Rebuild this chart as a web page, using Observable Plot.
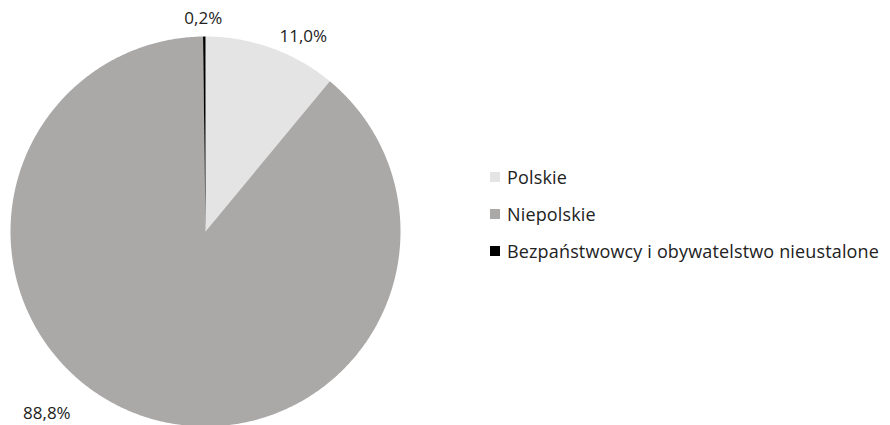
<!DOCTYPE html>
<html>
<head>
<meta charset="utf-8">
<script src="https://cdn.jsdelivr.net/npm/d3@7"></script>
<script src="https://cdn.jsdelivr.net/npm/@observablehq/plot@0.6"></script>
<style>
  body { margin: 0; background: #fff; font-family: "Open Sans", sans-serif; }
  #wrap { position: relative; width: 890px; height: 425px; overflow: hidden; }
  #legend { position: absolute; left: 490px; top: 158px; font-size: 18px; letter-spacing: 0.15px; color: #222; }
  .item { display: flex; align-items: center; height: 37px; white-space: nowrap; }
  .sw { width: 10px; height: 10px; margin-right: 7px; }
</style>
</head>
<body>
<div id="wrap"></div>
<script>
const categories = ["Polskie", "Niepolskie", "Bezpaństwowcy i obywatelstwo nieustalone"];
const values = [11.0, 88.8, 0.2];
const labels = ["11,0%", "88,8%", "0,2%"];
const colors = ["#e5e4e4", "#aba8a8", "#000000"];

// label placement (angle in degrees clockwise from 12 o'clock, radius relative to pie radius)
const labelAngle = [26.6, 221, -0.6];
const labelRadius = [1.12, 1.24, 1.09];

const total = d3.sum(values);
const polys = [];
let start = 0;
categories.forEach((c, i) => {
  const a0 = start / total * 2 * Math.PI;
  const a1 = (start + values[i]) / total * 2 * Math.PI;
  start += values[i];
  const n = Math.max(2, Math.ceil((a1 - a0) / 0.01));
  polys.push({cat: c, x: 0, y: 0});
  for (let k = 0; k <= n; k++) {
    const a = a0 + (a1 - a0) * k / n;
    polys.push({cat: c, x: Math.sin(a), y: Math.cos(a)});
  }
  polys.push({cat: c, x: 0, y: 0});
});

const labelData = labels.map((t, i) => {
  const a = labelAngle[i] * Math.PI / 180;
  return {t, x: labelRadius[i] * Math.sin(a), y: labelRadius[i] * Math.cos(a)};
});

const chart = Plot.plot({
  width: 890,
  height: 425,
  margin: 0,
  x: {domain: [-1, 1], range: [10, 400], axis: null},
  y: {domain: [-1, 1], range: [426, 36], axis: null},
  color: {domain: categories, range: colors},
  style: {fontFamily: "Open Sans, sans-serif", background: "#fff"},
  marks: [
    Plot.line(polys, {x: "x", y: "y", z: "cat", fill: "cat", stroke: null, curve: "linear"}),
    Plot.text(labelData, {x: "x", y: "y", text: "t", fontSize: 17, fill: "#222"})
  ]
});
const wrap = document.getElementById("wrap");
wrap.appendChild(chart);

const legend = document.createElement("div");
legend.id = "legend";
categories.forEach((c, i) => {
  const it = document.createElement("div");
  it.className = "item";
  const sw = document.createElement("span");
  sw.className = "sw";
  sw.style.background = colors[i];
  const tx = document.createElement("span");
  tx.textContent = c;
  it.appendChild(sw);
  it.appendChild(tx);
  legend.appendChild(it);
});
wrap.appendChild(legend);
</script>
</body>
</html>
